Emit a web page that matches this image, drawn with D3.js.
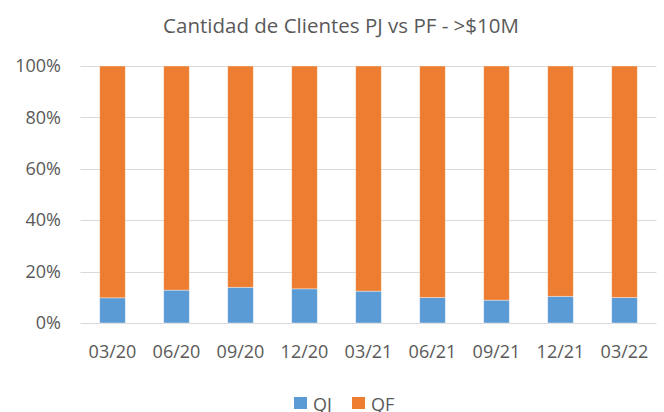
<!DOCTYPE html>
<html>
<head>
<meta charset="utf-8">
<script src="https://d3js.org/d3.v7.min.js"></script>
<style>
body { margin: 0; background: #fff; }
text { font-family: "Open Sans", "Liberation Sans", sans-serif; fill: #595959; }
</style>
</head>
<body>
<div id="chart"></div>
<script>
var periods = ["03/20", "06/20", "09/20", "12/20", "03/21", "06/21", "09/21", "12/21", "03/22"];
var qj = [9.8, 12.8, 13.9, 13.3, 12.4, 9.9, 8.9, 10.4, 9.9];
var qf = [90.2, 87.2, 86.1, 86.7, 87.6, 90.1, 91.1, 89.6, 90.1];
var yTicks = [0, 20, 40, 60, 80, 100];
var seriesNames = ["QJ", "QF"];
var seriesColors = ["#5B9BD5", "#ED7D31"];

var width = 664, height = 412;
var margin = {top: 66, right: 8, bottom: 89, left: 80.5};

var svg = d3.select("#chart")
  .append("svg")
    .attr("width", width)
    .attr("height", height);

svg.append("text")
    .attr("x", 341)
    .attr("y", 33)
    .attr("text-anchor", "middle")
    .style("font-size", "20.5px")
    .text("Cantidad de Clientes PJ vs PF - >$10M");

var x = d3.scaleBand()
    .domain(periods)
    .range([margin.left, margin.left + 576])
    .paddingInner(0.6)
    .paddingOuter(0.3);

var y = d3.scaleLinear()
    .domain([0, 100])
    .range([height - margin.bottom, margin.top]);

// gridlines
svg.append("g")
  .selectAll("line")
  .data(yTicks)
  .enter()
  .append("line")
    .attr("x1", margin.left)
    .attr("x2", margin.left + 576)
    .attr("y1", function(d) { return Math.round(y(d)) + 0.5; })
    .attr("y2", function(d) { return Math.round(y(d)) + 0.5; })
    .attr("stroke", "#D9D9D9")
    .attr("stroke-width", 1);

var rows = periods.map(function(p, i) { return {period: p, QJ: qj[i], QF: qf[i]}; });
var stacked = d3.stack().keys(seriesNames)(rows);

svg.append("g")
  .selectAll("g")
  .data(stacked)
  .enter()
  .append("g")
    .attr("fill", function(d, i) { return seriesColors[i]; })
  .selectAll("rect")
  .data(function(d) { return d; })
  .enter()
  .append("rect")
    .attr("x", function(d) { return x(d.data.period); })
    .attr("width", x.bandwidth())
    .attr("y", function(d) { return y(d[1]); })
    .attr("height", function(d) { return y(d[0]) - y(d[1]); })
    .attr("stroke", "#fff")
    .attr("stroke-opacity", 0.5)
    .attr("stroke-width", 0.75);

// y axis labels
var yAxis = svg.append("g")
    .attr("transform", "translate(" + 61 + ",0)")
    .call(d3.axisLeft(y).tickValues(yTicks).tickFormat(function(d) { return d + "%"; }).tickSize(0).tickPadding(0));
yAxis.select(".domain").remove();
yAxis.selectAll("text").style("font-size", "18px").attr("fill", "#595959").style("font-family", null);

// x axis labels
var xAxis = svg.append("g")
    .attr("transform", "translate(0," + (height - margin.bottom) + ")")
    .call(d3.axisBottom(x).tickSize(0));
xAxis.select(".domain").remove();
xAxis.selectAll("text")
    .attr("y", 35)
    .attr("dy", null)
    .style("font-size", "18px")
    .attr("fill", "#595959")
    .style("font-family", null);

// legend
var legend = svg.append("g")
  .selectAll("g")
  .data(seriesNames)
  .enter()
  .append("g")
    .attr("transform", function(d, i) { return "translate(" + (294 + i * 58) + ",397)"; });
legend.append("rect")
    .attr("width", 13)
    .attr("height", 12)
    .attr("fill", function(d, i) { return seriesColors[i]; });
legend.append("text")
    .attr("x", 19)
    .attr("y", 14)
    .style("font-size", "18px")
    .text(function(d) { return d; });
</script>
</body>
</html>
